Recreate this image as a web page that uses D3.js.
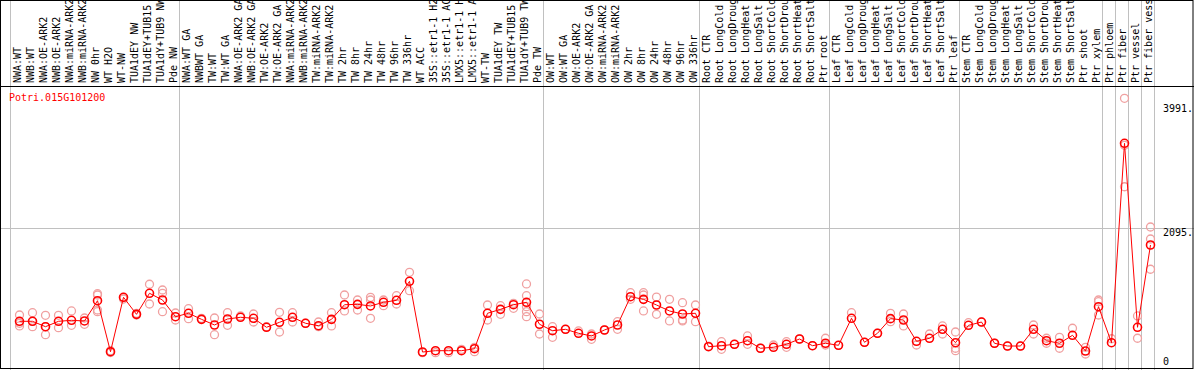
<!DOCTYPE html>
<html>
<head>
<meta charset="utf-8">
<script src="https://cdn.jsdelivr.net/npm/d3@7/dist/d3.min.js"></script>
<style>
  body { margin: 0; background: #fff; }
  svg { display: block; font-family: "DejaVu Sans Mono", monospace; font-size: 10px; }
</style>
</head>
<body>
<svg id="chart" width="1194" height="370"></svg>
<script>
// ─── Data ────────────────────────────────────────────────
const geneName = 'Potri.015G101200';

const samples = [
  'NWA:WT', 'NWB:WT', 'NWA:OE-ARK2', 'NWB:OE-ARK2', 'NWA:miRNA-ARK2', 'NWB:miRNA-ARK2',
  'NW 0hr', 'WT H2O', 'WT-NW', 'TUA1dEY NW', 'TUA1dEY+TUB15 NW', 'TUA1dY+TUB9 NW', 'Pde NW',
  'NWA:WT GA', 'NWBWT GA', 'TW:WT', 'TW:WT GA', 'NWA:OE-ARK2 GA', 'NWB:OE-ARK2 GA',
  'TW:OE-ARK2', 'TW:OE-ARK2 GA', 'NWA:miRNA-ARK2', 'NWB:miRNA-ARK2', 'TW:miRNA-ARK2', 'TW:miRNA-ARK2',
  'TW 2hr', 'TW 8hr', 'TW 24hr', 'TW 48hr', 'TW 96hr', 'TW 336hr', 'WT ACC',
  '35S::etr1-1 H2O', '35S::etr1-1 ACC', 'LMX5::etr1-1 H2O', 'LMX5::etr1-1 ACC',
  'WT-TW', 'TUA1dEY TW', 'TUA1dEY+TUB15 TW', 'TUA1dY+TUB9 TW', 'Pde TW',
  'OW:WT', 'OW:WT GA', 'OW:OE-ARK2', 'OW:OE-ARK2 GA', 'OW:miRNA-ARK2', 'OW:miRNA-ARK2',
  'OW 2hr', 'OW 8hr', 'OW 24hr', 'OW 48hr', 'OW 96hr', 'OW 336hr',
  'Root CTR', 'Root LongCold', 'Root LongDrought', 'Root LongHeat', 'Root LongSalt',
  'Root ShortCold', 'Root ShortDrought', 'Root ShortHeat', 'Root ShortSalt', 'Ptr root',
  'Leaf CTR', 'Leaf LongCold', 'Leaf LongDrought', 'Leaf LongHeat', 'Leaf LongSalt',
  'Leaf ShortCold', 'Leaf ShortDrought', 'Leaf ShortHeat', 'Leaf ShortSalt', 'Ptr leaf',
  'Stem CTR', 'Stem LongCold', 'Stem LongDrought', 'Stem LongHeat', 'Stem LongSalt',
  'Stem ShortCold', 'Stem ShortDrought', 'Stem ShortHeat', 'Stem ShortSalt', 'Ptr shoot',
  'Ptr xylem', 'Ptr phloem', 'Ptr fiber', 'Ptr vessel', 'Ptr fiber vessel'
];

// mean expression per sample
const means = [
  672, 672, 590, 672, 687, 677, 985, 210, 1037, 778, 1098, 996, 742,
  794, 702, 616, 707, 733, 718, 581, 657, 733, 642, 605, 702,
  924, 930, 905, 961, 991, 1280, 205, 225, 225, 225, 255,
  794, 854, 924, 961, 627,
  529, 550, 490, 449, 540, 616, 1046, 1006, 920, 829, 783, 794,
  286, 301, 322, 377, 262, 277, 322, 403, 301, 338,
  307, 718, 353, 490, 712, 692, 368, 414, 550, 347,
  611, 661, 338, 296, 296, 550, 377, 338, 459, 220,
  894, 347, 3378, 581, 1832
];

// individual replicates per sample
const replicates = [
  [768, 642, 601], [803, 590, 672], [763, 468, 590], [763, 575], [829, 611], [626, 722],
  [1092, 1072, 844, 818], [198, 225], [1037, 1011], [794, 768], [1235, 935], [1148, 1098, 818], [798, 692],
  [864, 712], [718], [722, 468], [803, 611], [753], [783, 661], [590], [809, 509], [803, 661], [642],
  [661, 590], [803, 601],
  [1072, 829], [996, 844], [1037, 996, 718], [996, 909], [1061, 935], [1417, 1137], [195],
  [195], [195], [246], [210, 277],
  [920, 692], [909, 778], [946, 870], [1240, 1061, 894, 818, 742], [783, 479],
  [590, 429], [550], [525], [479, 398], [540], [666, 550], [1107, 1006], [1107, 1072, 829],
  [1041, 778], [1006, 677], [955, 692, 677], [920, 666],
  [296], [362, 246], [322], [449, 322], [262], [312], [362, 277], [403], [301], [414, 312],
  [307], [803], [353], [490], [794, 666], [783, 601], [312], [479], [601, 479], [509, 262, 225],
  [651], [661], [338], [296], [296], [616, 479], [414, 338], [429, 262], [566], [277, 175],
  [996, 970, 768], [407], [4062, 2718, 3348], [753, 414], [2106, 1923, 1463]
];

const groupEnds = [12, 40, 52, 62, 72, 83, 84, 85, 86, 87]; // last index of each block
const yTicks = [0, 2095, 3991];
const yTickLabels = ['0', '2095.', '3991.'];

// ─── Layout ──────────────────────────────────────────────
const W = 1194, H = 370;
const headerBottom = 86.5;
const svg = d3.select('#chart');

svg.append('rect').attr('width', W).attr('height', H).attr('fill', '#fff');

const x = d3.scaleBand()
  .domain(d3.range(samples.length))
  .range([11, 11 + 13 * samples.length]);
const cx = i => x(i) + 8.5;

const y = d3.scaleLinear().domain([0, 3991]).range([365.5, 103]);

// ─── Grid ────────────────────────────────────────────────
const grid = svg.append('g').attr('stroke', '#c0c0c0').attr('stroke-width', 1);
const vLines = [x(0)].concat(groupEnds.map(i => x(i) + x.bandwidth()));
grid.selectAll('line.v').data(vLines).join('line')
  .attr('class', 'v')
  .attr('x1', d => d - 0.5).attr('x2', d => d - 0.5)
  .attr('y1', 0).attr('y2', H);
grid.append('line')
  .attr('x1', 0).attr('x2', W)
  .attr('y1', Math.round(y(2095)) + 0.5).attr('y2', Math.round(y(2095)) + 0.5);

// ─── Sample labels (rotated) ─────────────────────────────
svg.append('g').selectAll('text').data(samples).join('text')
  .attr('transform', (d, i) => `translate(${x(i) + 10},83) rotate(-90)`)
  .attr('fill', '#000')
  .text(d => d);

// frame + header separator
svg.append('rect')
  .attr('x', 0.5).attr('y', 0.5).attr('width', W - 1.5).attr('height', H - 2)
  .attr('fill', 'none').attr('stroke', '#000');
svg.append('line')
  .attr('x1', 0).attr('x2', W).attr('y1', headerBottom).attr('y2', headerBottom)
  .attr('stroke', '#000');

// gene name
svg.append('text')
  .attr('x', 9).attr('y', 100.5)
  .attr('fill', '#ff0000')
  .text(geneName);

// y labels on the right
svg.append('g').selectAll('text').data(yTicks).join('text')
  .attr('x', 1163)
  .attr('y', d => Math.min(y(d) + 8.5, 365))
  .attr('fill', '#000')
  .text((d, i) => yTickLabels[i]);

// ─── Marks ───────────────────────────────────────────────
const reps = replicates.flatMap((arr, i) => arr.map(v => ({ i, v })));
svg.append('g').selectAll('circle').data(reps).join('circle')
  .attr('cx', d => cx(d.i)).attr('cy', d => y(d.v)).attr('r', 4)
  .attr('fill', 'none').attr('stroke', '#f0a0a0').attr('stroke-width', 1.3);

const line = d3.line().x((d, i) => cx(i)).y(d => y(d));
svg.append('path').datum(means)
  .attr('d', line)
  .attr('fill', 'none').attr('stroke', '#ff0000').attr('stroke-width', 1);

svg.append('g').selectAll('circle').data(means).join('circle')
  .attr('cx', (d, i) => cx(i)).attr('cy', d => y(d)).attr('r', 4)
  .attr('fill', 'none').attr('stroke', '#ff0000').attr('stroke-width', 1.6);
</script>
</body>
</html>
